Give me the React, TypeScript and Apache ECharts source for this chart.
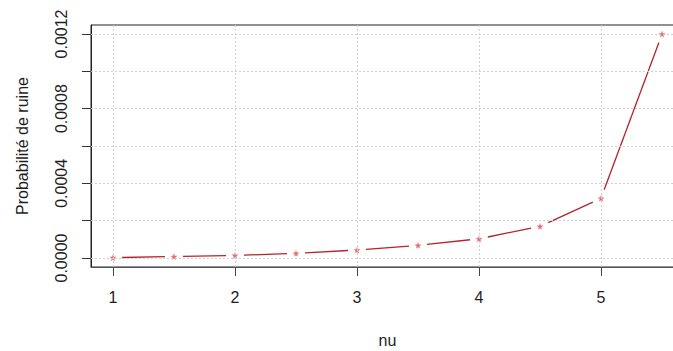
import React, { useEffect, useRef } from "react";
import * as echarts from "echarts";

// nu values and the matching ruin probabilities
const nuValues = [1, 1.5, 2, 2.5, 3, 3.5, 4, 4.5, 5, 5.5];
const ruinProb = [0.000002, 0.000008, 0.000014, 0.000025, 0.000043, 0.000068, 0.000103, 0.00017, 0.00032, 0.0012];

// axis ranges, ticks and labelled ticks
const xRange = [0.82, 5.68];
const yRange = [-0.000048, 0.001248];
const xTicks = [1, 2, 3, 4, 5];
const yTicks = [0, 0.0002, 0.0004, 0.0006, 0.0008, 0.001, 0.0012];
const yLabelTicks = [0, 0.0004, 0.0008, 0.0012];

const LINE_COLOR = "#b5232b";
const POINT_COLOR = "#e2474f";
const GRID_COLOR = "#cfcfcf";
const TEXT_COLOR = "#1e1e1e";
const FONT = "'Liberation Sans', Arial, sans-serif";

const STAR =
  "path://M50,0 L61,35 L98,35 L68,57 L79,91 L50,70 L21,91 L32,57 L2,35 L39,35 Z";

const CHART_W = 700;
const CHART_H = 351;

export default function App() {
  const ref = useRef<HTMLDivElement>(null);

  useEffect(() => {
    if (!ref.current) return;
    const chart = echarts.init(ref.current, undefined, { renderer: "svg" });
    const points = nuValues.map((x, i) => [x, ruinProb[i]]);
    const gap = 9;

    const gridLines = [
      ...xTicks.map((v) => [{ coord: [v, yRange[0]] }, { coord: [v, yRange[1]] }]),
      ...yTicks.map((v) => [{ coord: [xRange[0], v] }, { coord: [xRange[1], v] }]),
    ];

    chart.setOption({
      animation: false,
      backgroundColor: "#ffffff",
      grid: {
        left: 91,
        top: 25,
        right: CHART_W - 684,
        bottom: CHART_H - 267,
        outerBoundsMode: "none",
        containLabel: false,
        show: true,
        borderColor: "#222222",
        borderWidth: 1,
        backgroundColor: "transparent",
      },
      xAxis: {
        type: "value",
        min: xRange[0],
        max: xRange[1],
        name: "nu",
        nameLocation: "middle",
        nameGap: 65,
        nameTextStyle: { fontFamily: FONT, fontSize: 16, color: TEXT_COLOR },
        axisLine: { show: true, onZero: false, lineStyle: { color: "#555", width: 1 } },
        axisTick: {
          show: true,
          length: 9,
          customValues: xTicks,
          lineStyle: { color: "#444" },
        },
        axisLabel: {
          customValues: xTicks,
          margin: 22,
          fontFamily: FONT,
          fontSize: 16,
          color: TEXT_COLOR,
          formatter: (v: number) => String(v),
        },
        splitLine: { show: false },
      },
      yAxis: {
        type: "value",
        min: yRange[0],
        max: yRange[1],
        name: "Probabilité de ruine",
        nameLocation: "middle",
        nameGap: 61,
        nameRotate: 90,
        nameTextStyle: { fontFamily: FONT, fontSize: 16, color: TEXT_COLOR },
        axisLine: { show: true, onZero: false, lineStyle: { color: "#222", width: 1 } },
        axisTick: {
          show: true,
          length: 9,
          customValues: yTicks,
          lineStyle: { color: "#333" },
        },
        axisLabel: {
          customValues: yLabelTicks,
          rotate: 90,
          margin: 22,
          fontFamily: FONT,
          fontSize: 16,
          color: TEXT_COLOR,
          formatter: (v: number) => v.toFixed(4),
        },
        splitLine: { show: false },
      },
      series: [
        {
          // dotted reference grid
          type: "scatter",
          data: points,
          symbol: "none",
          symbolSize: 0,
          silent: true,
          z: 1,
          markLine: {
            silent: true,
            symbol: ["none", "none"],
            label: { show: false },
            lineStyle: { color: GRID_COLOR, type: [2, 2], width: 1 },
            data: gridLines,
          },
        },
        {
          // line segments broken around each point
          type: "custom",
          data: points,
          z: 2,
          silent: true,
          renderItem: (params: any, api: any) => {
            const i = params.dataIndex;
            if (i >= nuValues.length - 1) return null;
            const p0 = api.coord([nuValues[i], ruinProb[i]]);
            const p1 = api.coord([nuValues[i + 1], ruinProb[i + 1]]);
            const dx = p1[0] - p0[0];
            const dy = p1[1] - p0[1];
            const len = Math.sqrt(dx * dx + dy * dy);
            if (len <= 2 * gap) return null;
            const ux = dx / len;
            const uy = dy / len;
            return {
              type: "line",
              shape: {
                x1: p0[0] + ux * gap,
                y1: p0[1] + uy * gap,
                x2: p1[0] - ux * gap,
                y2: p1[1] - uy * gap,
              },
              style: { stroke: LINE_COLOR, lineWidth: 1.3 },
            };
          },
        },
        {
          // star markers
          type: "scatter",
          data: points,
          symbol: STAR,
          symbolSize: 7,
          z: 3,
          silent: true,
          itemStyle: { color: POINT_COLOR },
        },
      ],
    });

    return () => chart.dispose();
  }, []);

  return (
    <div
      style={{
        position: "fixed",
        left: 0,
        top: 0,
        width: 673,
        height: CHART_H,
        overflow: "hidden",
      }}
    >
      <div ref={ref} style={{ width: CHART_W, height: CHART_H }} />
    </div>
  );
}
